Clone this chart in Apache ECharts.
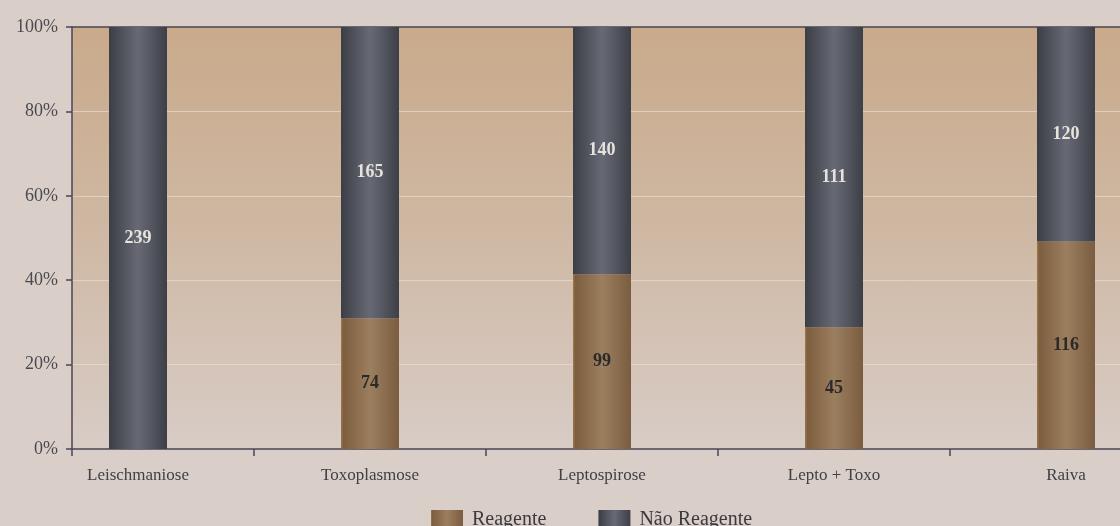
<!DOCTYPE html>
<html>
<head>
<meta charset="utf-8">
<script src="https://cdn.jsdelivr.net/npm/echarts@6/dist/echarts.min.js"></script>
<style>
  html, body { margin: 0; padding: 0; background: #d9cec8; overflow: hidden; }
  /* the last column runs past the right edge of the page */
  #chart { width: 1182px; height: 526px; }
</style>
</head>
<body>
<div id="chart"></div>
<script>
// Serology results per disease (counts of animals)
const categories = ['Leischmaniose', 'Toxoplasmose', 'Leptospirose', 'Lepto + Toxo', 'Raiva'];
const reagente = [0, 74, 99, 45, 116];
const naoReagente = [239, 165, 140, 111, 120];
const yTicks = [0, 20, 40, 60, 80, 100];

// Share of each group within its category, for the 100% stacked columns
const totals = categories.map((_, i) => reagente[i] + naoReagente[i]);
const pct = (arr) => arr.map((v, i) => (v / totals[i]) * 100);

const serif = '"Liberation Serif", "DejaVu Serif", serif';
const axisColor = '#4a4556';
const G = echarts.graphic.LinearGradient;

const brown = new G(0, 0, 1, 0, [
  { offset: 0, color: '#a0784a' },
  { offset: 0.04, color: '#7d5e3f' },
  { offset: 0.5, color: '#9c7f5f' },
  { offset: 1, color: '#7a5d40' }
]);
const slate = new G(0, 0, 1, 0, [
  { offset: 0, color: '#3c3e46' },
  { offset: 0.5, color: '#676a75' },
  { offset: 1, color: '#3d3f47' }
]);

const chart = echarts.init(document.getElementById('chart'), null, { renderer: 'canvas' });

chart.setOption({
  backgroundColor: '#d9cec8',
  animation: false,
  legend: {
    data: ['Reagente', 'Não Reagente'],
    left: 431,
    top: 510,
    padding: 0,
    itemWidth: 32,
    itemHeight: 20,
    itemGap: 52,
    icon: 'rect',
    textStyle: { fontFamily: serif, fontSize: 20, color: '#3a3a40', padding: [0, 0, 0, 4] }
  },
  grid: [
    {
      left: 72, top: 27, right: 0, bottom: 77,
      show: true, borderWidth: 0,
      backgroundColor: new G(0, 0, 0, 1, [
        { offset: 0, color: '#c9aa8b' },
        { offset: 0.45, color: '#ceb7a1' },
        { offset: 1, color: '#d8ccc6' }
      ])
    },
    { left: 22, top: 27, right: 0, bottom: 77 }
  ],
  xAxis: [
    {
      gridIndex: 0, type: 'category', data: [''], position: 'bottom',
      axisLine: { lineStyle: { color: axisColor, width: 1.5 } },
      axisTick: { show: true, length: 7, lineStyle: { color: axisColor, width: 1.5 } },
      axisLabel: { show: false }, splitLine: { show: false }
    },
    {
      gridIndex: 0, type: 'category', data: [''], position: 'top',
      axisLine: { lineStyle: { color: axisColor, width: 1.5 } },
      axisTick: { show: false }, axisLabel: { show: false }, splitLine: { show: false }
    },
    {
      gridIndex: 1, type: 'category', data: categories, position: 'bottom',
      axisLine: { show: false },
      axisTick: {
        show: true, length: 7, interval: (i) => i > 0,
        lineStyle: { color: axisColor, width: 1.5 }
      },
      axisLabel: { interval: 0, margin: 18, fontFamily: serif, fontSize: 17, color: '#3f3f45' },
      splitLine: { show: false }
    }
  ],
  yAxis: [
    {
      gridIndex: 0, type: 'value', min: yTicks[0], max: yTicks[yTicks.length - 1], interval: 20,
      axisLine: { show: true, lineStyle: { color: axisColor, width: 1.5 } },
      axisTick: { show: true, length: 6, lineStyle: { color: axisColor, width: 1.5 } },
      axisLabel: { formatter: '{value}%', margin: 14, fontFamily: serif, fontSize: 18, color: '#4a4a50' },
      splitLine: {
        show: true,
        lineStyle: {
          color: ['rgba(0,0,0,0)', 'rgba(235,226,216,0.6)', 'rgba(235,226,216,0.6)',
                  'rgba(235,226,216,0.6)', 'rgba(235,226,216,0.6)', 'rgba(0,0,0,0)'],
          width: 1
        }
      }
    },
    { gridIndex: 1, type: 'value', min: 0, max: 100, show: false }
  ],
  series: [
    {
      name: 'Reagente', type: 'bar', stack: 'total',
      xAxisIndex: 2, yAxisIndex: 1, barWidth: 58,
      data: pct(reagente),
      itemStyle: { color: brown },
      label: {
        show: true, position: 'inside',
        formatter: (p) => (reagente[p.dataIndex] ? String(reagente[p.dataIndex]) : ''),
        fontFamily: serif, fontSize: 18, fontWeight: 'bold', color: '#2c2a28'
      }
    },
    {
      name: 'Não Reagente', type: 'bar', stack: 'total',
      xAxisIndex: 2, yAxisIndex: 1, barWidth: 58,
      data: pct(naoReagente),
      itemStyle: { color: slate },
      label: {
        show: true, position: 'inside',
        formatter: (p) => String(naoReagente[p.dataIndex]),
        fontFamily: serif, fontSize: 18, fontWeight: 'bold', color: '#e6e2dc'
      }
    }
  ]
});
</script>
</body>
</html>
